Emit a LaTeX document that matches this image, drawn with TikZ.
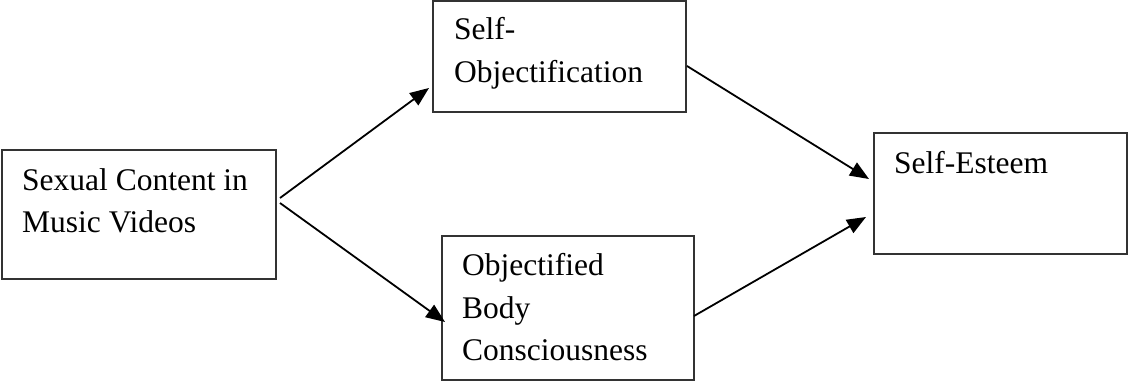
\documentclass[tikz,border=0pt]{standalone}
\usepackage{fontspec}
\setmainfont{Liberation Serif}
\usetikzlibrary{arrows.meta}
\begin{document}
\begin{tikzpicture}[x=1pt,y=-1pt,
  box/.style={draw=black!80,line width=1.5pt,rectangle,inner sep=0pt,outer sep=0pt,anchor=north west},
  txt/.style={anchor=base west,inner sep=0pt,font=\fontsize{31.5}{38}\selectfont},
  arr/.style={draw=black,line width=1.8pt,-{Triangle[length=19pt,width=15pt]}}]
\useasboundingbox (0,0) rectangle (1129,381);
\node[box,minimum width=274pt,minimum height=129pt] (b1) at (2,150) {};
\node[box,minimum width=253pt,minimum height=111pt] (b2) at (433,1) {};
\node[box,minimum width=252pt,minimum height=144pt] (b3) at (442,236) {};
\node[box,minimum width=253pt,minimum height=121pt] (b4) at (874,133) {};
\node[txt] (t1a) at (22,190) {Sexual Content in};
\node[txt] (t1b) at (22,232) {Music Videos};
\node[txt] (t2a) at (454,39) {Self-};
\node[txt] (t2b) at (454,82) {Objectification};
\node[txt] (t3a) at (462,275) {Objectified};
\node[txt] (t3b) at (462,318) {Body};
\node[txt] (t3c) at (462,360) {Consciousness};
\node[txt] (t4) at (894,173) {Self-Esteem};
\draw[arr] ([xshift=4pt,yshift=16.5pt]b1.east) -- ([xshift=-4pt,yshift=-31.5pt]b2.west);
\draw[arr] ([xshift=4pt,yshift=11.5pt]b1.east) -- ([xshift=3pt,yshift=-14pt]b3.west);
\draw[arr] ([xshift=1pt,yshift=-9.5pt]b2.east) -- ([xshift=-5pt,yshift=14.5pt]b4.west);
\draw[arr] ([yshift=-8pt]b3.east) -- ([xshift=-8pt,yshift=-23.5pt]b4.west);
\end{tikzpicture}
\end{document}
